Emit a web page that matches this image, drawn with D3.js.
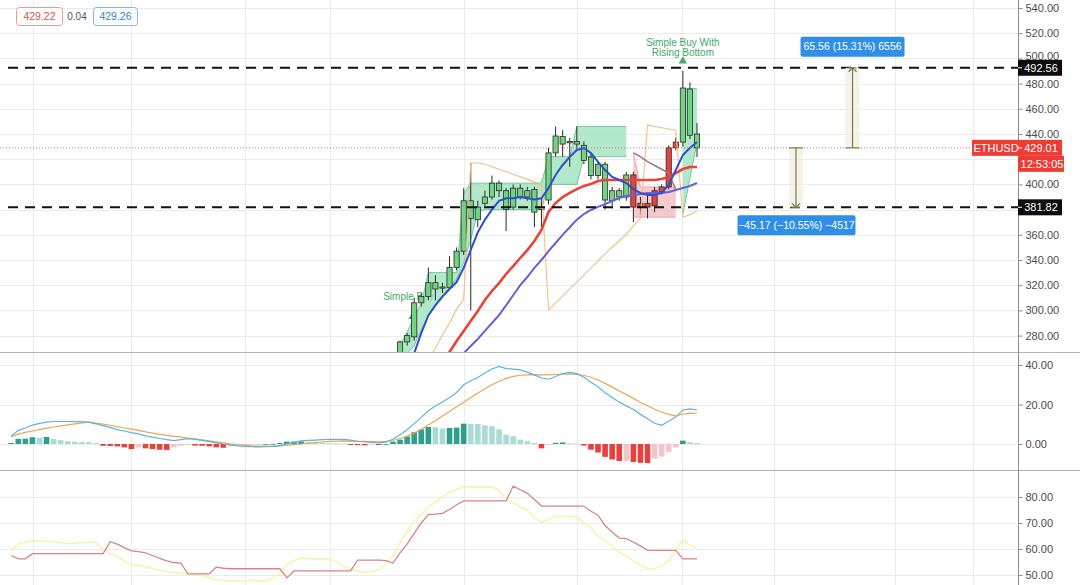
<!DOCTYPE html>
<html><head><meta charset="utf-8">
<script src="https://cdn.jsdelivr.net/npm/d3@7"></script>
<style>
html,body{margin:0;padding:0;background:#fff;}
svg{display:block;font-family:"Liberation Sans",Arial,sans-serif;}
</style></head><body>
<svg id="c" width="1080" height="585"></svg>
<script>
// ---------------- DATA ----------------
const candleStart = 55; // bar index of first visible candle
const opens  = [262,275,279,306,311,317,318,318,334,347,373,372,385,390,395,380,382,390,390,378,380,387.6,425,432,433,432,419,407,407,387.6,387,390,390,407.5,385,385,395,398,429,433.6,433.6,439,429];
const highs  = [276,282,310,314,334,328,322,343,350,397,417,387,395,407,403,397,400,400,398,398,390,429,446,443,437,446,434,424,418,418,398,397,410,410,390,392,398,400,431,437,490,481,448.7];
const lows   = [258,272,276,303,308,308,314,316,332,344,300,366,383,388,390,363,380,388,387,366,366,384,422,422,414,428,416,404,404,380,381,387,387,370,376,373,378,392,396,427,430,436,421.7];
const closes = [275,280,306,311,322,322,318.6,334,347,387,387,382,390,401,401,395,397,397,395,396,382,425,438.4,438,434,434,431,421.7,416,416,395,395,407.5,382,382,382,383,394,398,429,476.5,475.7,440];

// overlays aligned with candles (bar index candleStart + k)
const blueMA   = [null,258,266,282,296,304,311,317,322.5,333.7,348,362,372,380,387,389,389,390,389,388,389,397,407.5,415.4,421.7,427.3,428.9,424.9,417.8,411.4,405.9,403.5,401.1,396.3,393.2,391.6,391.6,393.2,399.5,411.4,423.3,428.9,433.7];
const redMA    = [null,null,null,null,null,null,258,267,275.7,283.7,291.6,299.5,308.3,315.4,321.7,328.9,335.2,341.6,347.9,355.1,363.8,378.1,385.2,390,393.2,396.3,398.7,400.3,402.7,403.5,403.5,403.5,403.5,403.5,403.5,403.5,403.5,404.3,405.9,409,412.2,413.8,413.8];
const purpleMA = [null,null,null,null,null,null,null,null,258,266,271.7,277.3,283.7,290,296.3,304,312,320,326.5,333.7,340,347,353.5,360,366,372,376.5,379.7,382.1,384.4,386.8,389.2,390.8,391.6,392.4,393.2,393.2,393.2,394,395.6,397.1,398.7,401.1];
const orangeStop = [null,null,null,null,262,270,280.5,290,301,309,417,417,416,414,412,410,408,406,404,402,400,300.3,305.9,311.4,317,322.5,328,333.7,339.2,344.8,350.3,355.1,360.6,367,373.3,447,446,445,444,443,374,376,379];
const mauveLine = [null,null,null,null,null,null,null,null,null,null,null,null,null,null,null,null,null,null,null,null,null,null,null,null,null,null,null,null,null,null,null,null,null,425,422,418,415,412,409,396,null,null,null];
const bullUpper = [272,283,295,305,330,330,330,330,330,393,401,401,401,401,401,401,401,401,401,401,401,422,422,422,422,446,446,446,446,446,446,446,446,null,null,null,null,null,null,null,476,476,476];
const bullLower = [262,266,272,285,295,305,312,318,325,338,356,378,380,380,380,380,380,380,380,380,380,400,400,400,400,400,422,422,422,422,422,422,422,null,null,null,null,null,null,null,376,405,433];
const bearUpper = [null,null,null,null,null,null,null,null,null,null,null,null,null,null,null,null,null,null,null,null,null,null,null,null,null,null,null,null,null,null,null,null,null,425,398,398,398,398,398,398,null,null,null];
const bearLower = [null,null,null,null,null,null,null,null,null,null,null,null,null,null,null,null,null,null,null,null,null,null,null,null,null,null,null,null,null,null,null,null,null,374,374,374,374,374,374,374,null,null,null];

// MACD pane (bars 0..97)
const macdLine = [3.9,6.9,8.1,9.6,10.4,11.1,11.4,11.4,11.4,11.3,
11.2,11.1,10.2,9.3,8.4,7.3,6.6,5.8,5.1,4.1,
3.5,2.8,2.2,1.7,2.2,2.7,2.3,1.8,1.2,0.6,
0,-0.5,-0.9,-1.2,-1.4,-1.5,-1.4,-1.2,-0.8,0,
0.8,1.6,1.8,2,2.2,2.3,2.3,2.3,2,1.4,
1,0.8,0.6,0.9,2.5,4.7,7.2,10.3,13.5,16.8,
19.2,21.3,23.6,26.1,30,32,33.7,36,38,39.3,
38.2,37.9,37.5,36.4,35,33.4,32.8,34.2,35.7,36.3,
35.6,33.8,31.3,29,26,23.5,21.2,19.3,17.5,15,
12.8,10.5,9.5,11.5,13.6,17.2,17.8,17.2];
const signalLine = [3.7,5,5.9,6.6,7.3,8,8.6,9.2,9.7,10.2,
10.7,11,10.6,10.1,9.5,8.8,8.1,7.5,6.9,6.1,
5.5,4.9,4.4,3.9,3.5,3,2.6,2.1,1.6,1.1,
0.6,0.1,-0.3,-0.6,-0.9,-1.1,-1.1,-1.1,-1,-0.6,
-0.3,0,0.4,0.7,1,1.3,1.5,1.6,1.5,1.4,
1.3,1.2,1.1,1.3,1.9,2.8,4,5.5,7.5,9.6,
11.8,14.2,16.5,18.8,21.2,23.6,25.8,28,30,31.8,
33.2,34.2,34.8,35,35.1,35,35,35.2,35.4,35.5,
35.3,34.7,33.8,32.4,30.7,28.8,26.8,25,23.1,21,
19.4,17.6,16.1,15,14.2,15.2,15.5,15.7];
const histogram = [0.5,2.6,2.7,3.4,3.2,3.6,2.6,1.9,1.4,1.2,
1.0,0.9,0.5,-0.9,-1.0,-1.2,-1.7,-2.6,-1.7,-2.2,
-2.6,-2.9,-3.0,-1.7,-0.9,-0.5,-0.8,-0.9,-1.2,-1.7,
-1.9,-1.2,-0.8,-0.3,-0.2,-0.15,0,0.1,0.5,1.2,
1.25,1.3,0.9,0.7,0.5,0.4,0.35,0.2,-0.5,-0.6,
-0.7,-0.1,-0.5,0,1.2,2.2,3.8,6,7.4,8.6,
8.5,7.8,8.1,8.3,10.3,10.2,10.1,9.5,9,7.4,
4.7,4,2.2,1.4,0.5,-2.2,-0.3,0.6,0.8,0.3,
0.2,-0.8,-2.9,-4.3,-6.5,-7.8,-8.6,-8.5,-9.1,-9.5,
-9.6,-7.4,-6.4,-4.0,-1.7,1.7,0.9,0.5];

// lower oscillator pane (bars 0..97)
const oscRed = [57.5,56.2,56.2,58.2,58.2,58.2,58.2,58.2,58.2,58.2,
58.2,58.2,58.2,58.2,62.8,61.9,60.5,59.3,59,58.5,
57.5,56.4,55.4,54.8,54.6,50.4,50.4,50.4,50.4,53,
52.6,52.4,52.4,52.4,52.4,52.4,52.4,52.4,52.4,48.9,
51.6,51.6,51.6,51.6,51.6,51.6,51.6,51.6,51.6,55.7,
55.7,55.7,55.7,55.5,54.6,58.5,62,66,70,73.2,
73.4,73.7,75.2,77,78.5,78.5,78.5,78.5,78.5,78.5,
78.5,84.2,82.8,81.4,79,76.5,76.5,76.5,76.5,76.5,
76.5,76.5,74.5,73,69,66.5,64.2,64,62.6,61.2,
59.5,59.5,59.5,59.5,59.5,56.2,56.2,56.2];
const oscYellow = [59.3,61.9,62.6,63.2,63.1,62.9,62.8,62.5,62,62.2,
62.5,62.6,62.6,59.9,58.2,57,55.4,54,53.7,53.2,
52.5,51.8,51.2,50.9,50.7,50.7,50.5,49.8,49,48.1,
47.9,47.7,47.7,47.8,48,47.8,47.7,48.8,50.5,54,
55.6,56.5,56.3,56.2,56.2,56,55.1,53.5,52,51.5,
51,51.3,52,54.5,57.5,62.3,66.6,70.8,73.3,76.2,
78,80,81.8,83,84,83.9,83.8,83.8,83.9,82.5,
79.3,77.8,76.2,75,72,70.3,71.2,72.5,72.5,72.5,
72.4,70,68.2,64.8,63.2,61,58.7,57.4,55.5,53.8,
52.5,52.3,53.5,55.5,60,63.5,61.5,60.5];

// axis ticks & levels (380 and 420 are covered by price labels in the reference)
const priceTicks = [280,300,320,340,360,400,440,460,480,500,520,540];
const priceGrid  = [280,300,320,340,360,380,400,420,440,460,480,500,520,540];
const macdTicks = [0,20,40];
const oscTicks = [50,60,70,80];
const timeGridBars = [3.1,16.9,33.1,45.1,64,80,94.9,107.9,125,136.1];
const levelHigh = 492.56, levelLow = 381.82, lastPrice = 429.01;
const countdown = "12:53:05", symbol = "ETHUSD";
const legendVals = ["429.22","0.04","429.26"];
const measureUp = {bar:119, from:429.01, to:492.56, text:"65.56 (15.31%) 6556"};
const measureDown = {bar:111, from:429.01, to:381.82, text:"\u221245.17 (\u221210.55%) \u22124517"};
const signals = [{bar:56.9, price:303, lines:["Simple Buy"]},
                 {bar:95, price:490, lines:["Simple Buy With","Rising Bottom"]}];

// ---------------- CHART ----------------
const W = 1080, H = 585, axisX = 1018;
const paneMain = [0,352], paneMacd = [352,470], paneOsc = [470,585];
const x  = d3.scaleLinear().domain([0,97]).range([11.2,697]);
const yP = d3.scaleLinear().domain([280,540]).range([335.6,8]);
const yM = d3.scaleLinear().domain([0,40]).range([444,365]);
const yO = d3.scaleLinear().domain([50,80]).range([575,497]);
const FONT = '"Liberation Sans",Arial,sans-serif';
const svg = d3.select('#c');
svg.append('rect').attr('width',W).attr('height',H).attr('fill','#fff');

const defs = svg.append('defs');
function clip(id, p){ defs.append('clipPath').attr('id',id).append('rect').attr('x',0).attr('y',p[0]).attr('width',axisX).attr('height',p[1]-p[0]); }
clip('cMain',paneMain); clip('cMacd',paneMacd); clip('cOsc',paneOsc);

// grid
const grid = svg.append('g').attr('stroke','#ebebeb').attr('stroke-width',1);
timeGridBars.forEach(b=>{ const xx=Math.round(x(b))+0.5; grid.append('line').attr('x1',xx).attr('x2',xx).attr('y1',0).attr('y2',H); });
function hgrid(scale, ticks, pane){ ticks.forEach(t=>{ const yy=Math.round(scale(t))+0.5; if(yy>pane[0]&&yy<pane[1]) grid.append('line').attr('x1',0).attr('x2',axisX).attr('y1',yy).attr('y2',yy); }); }
hgrid(yP,priceGrid,paneMain); hgrid(yM,macdTicks,paneMacd); hgrid(yO,oscTicks,paneOsc);

// separators
[paneMain[1],paneMacd[1]].forEach(yy=>svg.append('line').attr('x1',0).attr('x2',W).attr('y1',yy+0.5).attr('y2',yy+0.5).attr('stroke','#b4b4b4'));

// ---- main pane ----
const main = svg.append('g').attr('clip-path','url(#cMain)');
const candles = opens.map((o,k)=>({i:candleStart+k,o:o,h:highs[k],l:lows[k],c:closes[k]}));
const ov = (arr)=>arr.map((v,k)=>({i:candleStart+k,v:v}));

// early signal label (drawn under cloud and candles)
const sig0 = signals[0];
main.append('text').attr('x',x(sig0.bar)-5).attr('y',yP(sig0.price)-7).attr('text-anchor','middle')
  .attr('font-size',10).attr('fill','#43a865').attr('font-family',FONT).text(sig0.lines[0]);
main.append('path').attr('d',d3.symbol().type(d3.symbolTriangle).size(28)()).attr('fill','#43a865')
  .attr('transform',`translate(${x(sig0.bar)-1},${yP(sig0.price)+10})`);

// clouds
const bull = bullUpper.map((u,k)=>({i:candleStart+k,u:u,l:bullLower[k]}));
const bear = bearUpper.map((u,k)=>({i:candleStart+k,u:u,l:bearLower[k]}));
const area = d3.area().defined(d=>d.u!=null).x(d=>x(d.i)).y0(d=>yP(d.l)).y1(d=>yP(d.u));
main.append('path').datum(bull).attr('d',area).attr('fill','#9fe4bd').attr('fill-opacity',0.8);
main.append('path').datum(bear).attr('d',area).attr('fill','#f0b3bb').attr('fill-opacity',0.7);
const edge = (key)=>d3.line().defined(d=>d.u!=null).x(d=>x(d.i)).y(d=>yP(d[key]));
['u','l'].forEach(k=>{
  main.append('path').datum(bull).attr('d',edge(k)).attr('fill','none').attr('stroke','#6cc492').attr('stroke-width',0.9);
  main.append('path').datum(bear).attr('d',edge(k)).attr('fill','none').attr('stroke','#e6a0aa').attr('stroke-width',0.9);
});

// candles
const cg = main.append('g');
candles.forEach(d=>{
  const up = d.c>=d.o, xx = x(d.i);
  cg.append('line').attr('x1',xx).attr('x2',xx).attr('y1',yP(d.h)).attr('y2',yP(d.l)).attr('stroke','#2a2a2a').attr('stroke-width',1);
  const y0 = yP(Math.max(d.o,d.c)), hh = Math.max(1.2, Math.abs(yP(d.o)-yP(d.c)));
  cg.append('rect').attr('x',xx-2.6).attr('width',5.2).attr('y',y0).attr('height',hh)
    .attr('fill', up?'#72d382':'#e1453c').attr('stroke','#2a2a2a').attr('stroke-width',0.8);
});

// overlay lines
const ln = d3.line().defined(d=>d.v!=null).x(d=>x(d.i)).y(d=>yP(d.v));
main.append('path').datum(ov(orangeStop)).attr('d',ln).attr('fill','none').attr('stroke','#f5bd82').attr('stroke-width',1.1);
main.append('path').datum(ov(mauveLine)).attr('d',ln).attr('fill','none').attr('stroke','#a86f82').attr('stroke-width',1.5);
main.append('path').datum(ov(purpleMA)).attr('d',ln).attr('fill','none').attr('stroke','#6a5fd8').attr('stroke-width',2);
main.append('path').datum(ov(redMA)).attr('d',ln).attr('fill','none').attr('stroke','#e5443a').attr('stroke-width',2.6);
main.append('path').datum(ov(blueMA)).attr('d',ln).attr('fill','none').attr('stroke','#2c4fd2').attr('stroke-width',2);

// last price dotted line
main.append('line').attr('x1',0).attr('x2',972).attr('y1',yP(lastPrice)).attr('y2',yP(lastPrice))
  .attr('stroke','#e06a6a').attr('stroke-width',1).attr('stroke-dasharray','1,2');
// dashed levels
[levelHigh,levelLow].forEach(v=>main.append('line').attr('x1',8).attr('x2',axisX).attr('y1',yP(v)).attr('y2',yP(v))
  .attr('stroke','#111').attr('stroke-width',2).attr('stroke-dasharray','10,7'));

// measurements
function measure(m, up){
  const xx = x(m.bar), ya = yP(m.from), yb = yP(m.to);
  main.append('rect').attr('x',xx-7).attr('width',14).attr('y',Math.min(ya,yb)).attr('height',Math.abs(yb-ya)).attr('fill','#f6ede6').attr('opacity',0.8);
  const col = '#6f7f45';
  main.append('line').attr('x1',xx).attr('x2',xx).attr('y1',ya).attr('y2',yb).attr('stroke',col).attr('stroke-width',1.2);
  main.append('line').attr('x1',xx-7).attr('x2',xx+7).attr('y1',ya).attr('y2',ya).attr('stroke',col).attr('stroke-width',1.2);
  main.append('line').attr('x1',xx-4).attr('x2',xx+4).attr('y1',yb).attr('y2',yb).attr('stroke',col).attr('stroke-width',1.2);
  const s = up?4:-4;
  main.append('path').attr('d',`M${xx-4},${yb+s}L${xx},${yb}L${xx+4},${yb+s}`).attr('fill','none').attr('stroke',col).attr('stroke-width',1.2);
}
measure(measureUp,true); measure(measureDown,false);
function blueLabel(cx, top, w, text){
  svg.append('rect').attr('x',cx-w/2).attr('y',top).attr('width',w).attr('height',20).attr('rx',2).attr('fill','#2f8fe6');
  svg.append('text').attr('x',cx).attr('y',top+10).attr('dy','0.35em').attr('text-anchor','middle').attr('font-size',10.5)
    .attr('fill','#fff').attr('font-family',FONT).text(text);
}
blueLabel(x(measureUp.bar), yP(measureUp.to)-31, 104, measureUp.text);
blueLabel(x(measureDown.bar)+0.5, yP(measureDown.to)+8, 118, measureDown.text);

// top signal label
const sig1 = signals[1];
sig1.lines.forEach((t,j)=>svg.append('text').attr('x',x(sig1.bar)).attr('y',yP(sig1.price)-29+j*10).attr('dy','0.35em')
  .attr('text-anchor','middle').attr('font-size',10).attr('fill','#43a865').attr('font-family',FONT).text(t));
svg.append('path').attr('d',d3.symbol().type(d3.symbolTriangle).size(30)()).attr('fill','#43a865')
  .attr('transform',`translate(${x(sig1.bar)},${yP(sig1.price)-10})`);

// ---- MACD pane ----
const mg = svg.append('g').attr('clip-path','url(#cMacd)');
histogram.forEach((v,i)=>{
  const prev = i>0?histogram[i-1]:-Infinity;
  const col = v>=0 ? (v>=prev?'#2f9e8c':'#a9dcd4') : (v<prev?'#e8403d':'#f7c3cb');
  const y0 = yM(Math.max(0,v)), hh = Math.max(0.8, Math.abs(yM(v)-yM(0)));
  mg.append('rect').attr('x',x(i)-2.8).attr('width',5.6).attr('y',y0).attr('height',hh).attr('fill',col);
});
const lm = d3.line().x((d,i)=>x(i)).y(d=>yM(d));
mg.append('path').datum(signalLine).attr('d',lm).attr('fill','none').attr('stroke','#eea552').attr('stroke-width',1.2);
mg.append('path').datum(macdLine).attr('d',lm).attr('fill','none').attr('stroke','#5ab4e2').attr('stroke-width',1.2);

// ---- oscillator pane ----
const og = svg.append('g').attr('clip-path','url(#cOsc)');
const lo = d3.line().x((d,i)=>x(i)).y(d=>yO(d));
og.append('path').datum(oscYellow).attr('d',lo).attr('fill','none').attr('stroke','#faf2b0').attr('stroke-width',1.6);
og.append('path').datum(oscRed).attr('d',lo).attr('fill','none').attr('stroke','#d98383').attr('stroke-width',1.3);

// ---- axes ----
svg.append('line').attr('x1',axisX+0.5).attr('x2',axisX+0.5).attr('y1',0).attr('y2',H).attr('stroke','#8c8c8c');
function axis(scale, ticks){
  const a = svg.append('g').attr('transform',`translate(${axisX+0.5},0)`)
    .call(d3.axisRight(scale).tickValues(ticks).tickFormat(d3.format('.2f')).tickSize(4).tickPadding(3));
  a.select('.domain').remove();
  a.attr('font-family',FONT).attr('font-size',11);
  a.selectAll('.tick line').attr('stroke','#8c8c8c');
  a.selectAll('.tick text').attr('fill','#4d4d4d');
  return a;
}
const pa = axis(yP,priceTicks); axis(yM,macdTicks); axis(yO,oscTicks);
pa.selectAll('.tick').filter(d=>d===500).select('text').attr('dy','0.1em');

function axisBox(yc, text, fill, w, x0){
  svg.append('rect').attr('x',x0).attr('y',yc-8).attr('width',w).attr('height',16).attr('fill',fill);
  svg.append('text').attr('x',x0+w/2+1).attr('y',yc).attr('dy','0.35em').attr('text-anchor','middle').attr('font-size',11)
    .attr('fill','#fff').attr('font-family',FONT).text(text);
}
axisBox(yP(levelHigh), d3.format('.2f')(levelHigh), '#0d0d0d', 44, axisX);
axisBox(yP(levelLow), d3.format('.2f')(levelLow), '#0d0d0d', 44, axisX);
axisBox(yP(lastPrice), d3.format('.2f')(lastPrice), '#ee3b35', 44, axisX);
axisBox(yP(lastPrice)+16, countdown, '#ee3b35', 46, axisX);
axisBox(yP(lastPrice), symbol, '#ee3b35', 46, 972);
[levelHigh,levelLow,lastPrice].forEach(v=>svg.append('line').attr('x1',axisX).attr('x2',axisX+4).attr('y1',yP(v)).attr('y2',yP(v)).attr('stroke','#fff'));

// legend boxes top-left
function legendBox(x0,w,text,col,txt){
  svg.append('rect').attr('x',x0+0.5).attr('y',7.5).attr('width',w).attr('height',18).attr('rx',3).attr('fill','#fff').attr('stroke',col);
  svg.append('text').attr('x',x0+w/2+0.5).attr('y',16.5).attr('dy','0.35em').attr('text-anchor','middle').attr('font-size',10.5)
    .attr('fill',txt).attr('font-family',FONT).text(text);
}
legendBox(16,46,legendVals[0],'#eb9a9a','#d9534f');
svg.append('text').attr('x',77).attr('y',16.5).attr('dy','0.35em').attr('text-anchor','middle').attr('font-size',10)
  .attr('fill','#555').attr('font-family',FONT).text(legendVals[1]);
legendBox(93,44,legendVals[2],'#7dbbe8','#2f86c8');
</script>
</body></html>
